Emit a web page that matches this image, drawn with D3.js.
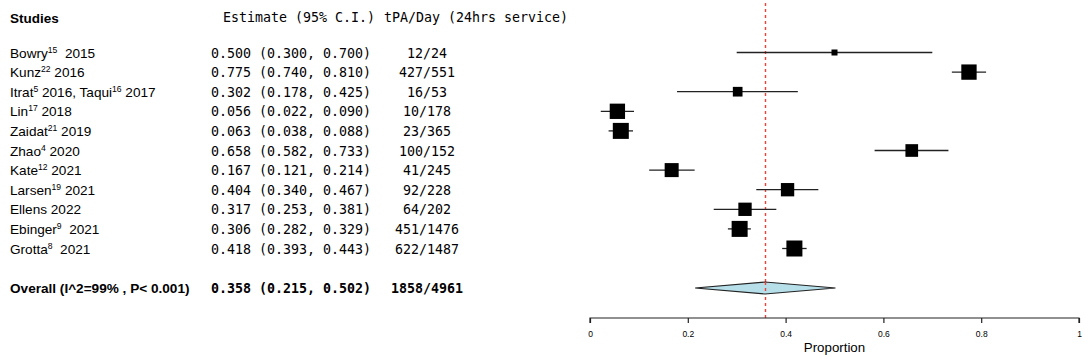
<!DOCTYPE html>
<html><head><meta charset="utf-8">
<script src="https://cdn.jsdelivr.net/npm/d3@7"></script>
<style>body{margin:0;background:#fff}svg{display:block}</style>
</head><body>
<script>
const studies = [
  [["Bowry",""],["15",""],["  2015",""]],
  [["Kunz",""],["22",""],[" 2016",""]],
  [["Itrat",""],["5",""],[" 2016, Taqui",""],["16",""],[" 2017",""]],
  [["Lin",""],["17",""],[" 2018",""]],
  [["Zaidat",""],["21",""],[" 2019",""]],
  [["Zhao",""],["4",""],[" 2020",""]],
  [["Kate",""],["12",""],[" 2021",""]],
  [["Larsen",""],["19",""],[" 2021",""]],
  [["Ellens 2022",""]],
  [["Ebinger",""],["9",""],["  2021",""]],
  [["Grotta",""],["8",""],["  2021",""]]
];
const estimates = [0.500,0.775,0.302,0.056,0.063,0.658,0.167,0.404,0.317,0.306,0.418];
const lower =     [0.300,0.740,0.178,0.022,0.038,0.582,0.121,0.340,0.253,0.282,0.393];
const upper =     [0.700,0.810,0.425,0.090,0.088,0.733,0.214,0.467,0.381,0.329,0.443];
const counts = ["12/24","427/551","16/53","10/178","23/365","100/152","41/245","92/228","64/202","451/1476","622/1487"];
const weights = [6.6, 9.4, 7.7, 9.4, 9.6, 8.6, 9.0, 8.8, 8.8, 9.6, 9.6];
const overall = {label:"Overall (I^2=99% , P< 0.001)", est:0.358, lo:0.215, hi:0.502, count:"1858/4961"};
const xTicks = [0,0.2,0.4,0.6,0.8,1];
const xTickLabels = ["0","0.2","0.4","0.6","0.8","1"];

const W=1084,H=359;
const svg=d3.select("body").append("svg").attr("width",W).attr("height",H);
const x=d3.scaleLinear().domain([0,1]).range([590,1079]);
const y=d3.scaleLinear().domain([0,10]).range([52.5,248.5]);
const yOverall=288;
const size=d3.scaleLinear().domain([d3.min(weights),d3.max(weights)]).range([6,16]);
const sans="'Liberation Sans', Arial, Helvetica, sans-serif";
const mono="'DejaVu Sans Mono', monospace";
const fs=13.3;
const fmt=d3.format(".3f");
const refX=Math.round(x(overall.est))+0.5;
const red="#f0403a";

// headers
svg.append("text").attr("x",10).attr("y",23).attr("font-family",sans).attr("font-weight","bold").attr("font-size",13.5).text("Studies");
svg.append("text").attr("x",223).attr("y",22).attr("font-family",mono).attr("font-size",fs).attr("xml:space","preserve").text("Estimate (95% C.I.)");
svg.append("text").attr("x",384).attr("y",22).attr("font-family",mono).attr("font-size",fs).attr("xml:space","preserve").text("tPA/Day (24hrs service)");

// reference line
svg.append("line").attr("x1",refX).attr("x2",refX).attr("y1",3).attr("y2",318)
  .attr("stroke",red).attr("stroke-width",1.4).attr("stroke-dasharray","3,3");

// study rows
studies.forEach((parts,i)=>{
  const t=svg.append("text").attr("x",10).attr("y",y(i)+5).attr("font-family",sans).attr("font-size",13.6).attr("xml:space","preserve");
  parts.forEach(([s],j)=>{
    const isSup = parts.length>1 && j%2===1;
    if(isSup) t.append("tspan").attr("font-size",8.6).attr("dy",-5).text(s);
    else t.append("tspan").attr("dy", j>0?5:0).text(s);
  });
  svg.append("text").attr("x",211).attr("y",y(i)+5).attr("font-family",mono).attr("font-size",fs).attr("xml:space","preserve")
    .text(`${fmt(estimates[i])} (${fmt(lower[i])}, ${fmt(upper[i])})`);
  svg.append("text").attr("x",427).attr("y",y(i)+5).attr("text-anchor","middle").attr("font-family",mono).attr("font-size",fs)
    .text(counts[i]);
  svg.append("line").attr("x1",x(lower[i])).attr("x2",x(upper[i])).attr("y1",y(i)).attr("y2",y(i)).attr("stroke","#222").attr("stroke-width",1.3);
  const s=size(weights[i]);
  svg.append("rect").attr("x",x(estimates[i])-s/2).attr("y",y(i)-s/2).attr("width",s).attr("height",s).attr("fill","#000");
});

// overall
svg.append("text").attr("x",10).attr("y",yOverall+5).attr("font-family",sans).attr("font-weight","bold").attr("font-size",13.6).text(overall.label);
svg.append("text").attr("x",211).attr("y",yOverall+5).attr("font-family",mono).attr("font-weight","bold").attr("font-size",fs).attr("xml:space","preserve")
  .text(`${fmt(overall.est)} (${fmt(overall.lo)}, ${fmt(overall.hi)})`);
svg.append("text").attr("x",427).attr("y",yOverall+5).attr("text-anchor","middle").attr("font-family",mono).attr("font-weight","bold").attr("font-size",fs).text(overall.count);
svg.append("path").attr("d",`M${x(overall.lo)},${yOverall} L${x(overall.est)},${yOverall-6} L${x(overall.hi)},${yOverall} L${x(overall.est)},${yOverall+6} Z`)
  .attr("fill","#b7dfea").attr("stroke","#222").attr("stroke-width",1.2);
svg.append("line").attr("x1",refX).attr("x2",refX).attr("y1",yOverall-6).attr("y2",yOverall+6)
  .attr("stroke",red).attr("stroke-width",1.4).attr("stroke-dasharray","3,3");

// axis
const axis=d3.axisBottom(x).tickValues(xTicks).tickFormat((d,i)=>xTickLabels[i]).tickSize(5).tickPadding(8);
const g=svg.append("g").attr("transform","translate(0,318)").call(axis);
g.select(".domain").attr("stroke","#222").attr("stroke-width",1.2).attr("d",`M${x(0)},5V0H${x(1)}V5`);
g.selectAll(".tick line").attr("stroke","#222").attr("stroke-width",1.2);
g.selectAll(".tick text").attr("font-family",sans).attr("font-size",8.5).attr("fill","#000");
svg.append("text").attr("x",x(0.5)).attr("y",352).attr("text-anchor","middle").attr("font-family",sans).attr("font-size",13.3).text("Proportion");
</script>
</body></html>
